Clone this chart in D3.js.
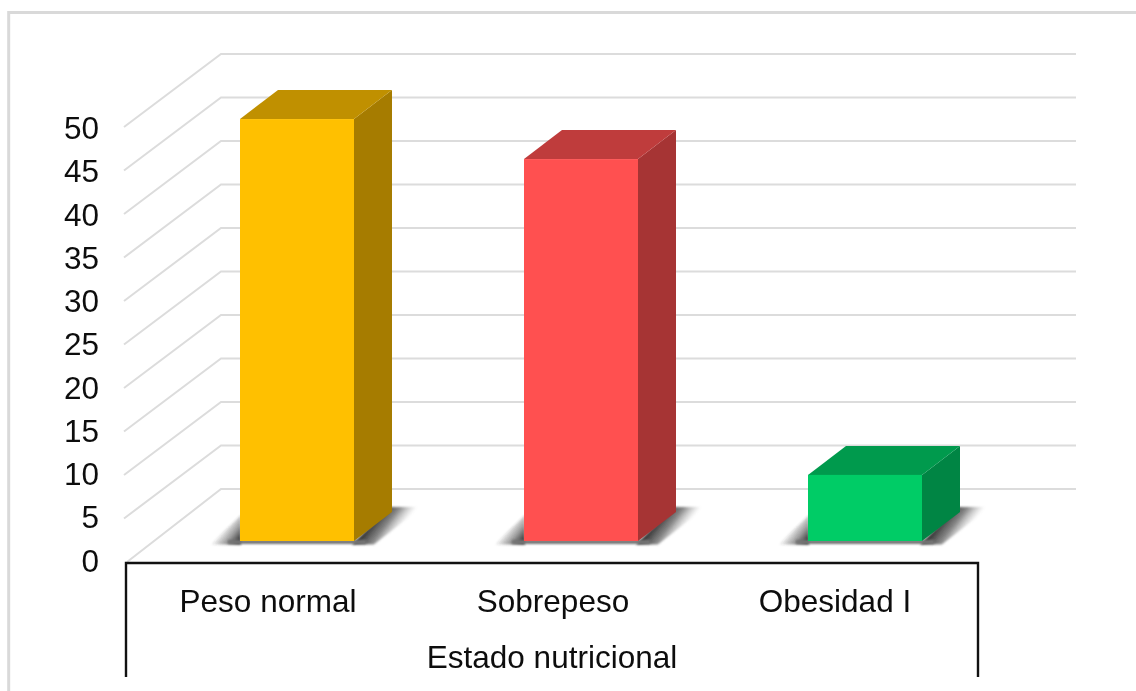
<!DOCTYPE html>
<html><head><meta charset="utf-8">
<script src="https://cdnjs.cloudflare.com/ajax/libs/d3/7.8.5/d3.min.js"></script>
<style>html,body{margin:0;padding:0;background:#fff;overflow:hidden}svg{display:block}
text{font-family:"Liberation Sans",Arial,sans-serif;fill:#111}</style></head><body>
<svg id="c" width="1136" height="691"></svg>
<script>
const categories=["Peso normal","Sobrepeso","Obesidad I"];
const values=[48.5,43.9,7.6];
const frontColors=["#FFC000","#FF5050","#00CC66"];
const topColors=["#C09000","#BF3C3C","#009A4D"];
const sideColors=["#A67C00","#A63434","#008544"];
const yTicks=[0,5,10,15,20,25,30,35,40,45,50];
const axisTitle="Estado nutricional";

const W=1136,H=691;
const svg=d3.select("#c").attr("viewBox",[0,0,W,H]);
const defs=svg.append("defs");
defs.append("filter").attr("id","soft").append("feGaussianBlur").attr("stdDeviation",0.45);
defs.append("filter").attr("id","sh").attr("x","-20%").attr("y","-30%").attr("width","140%").attr("height","160%").append("feGaussianBlur").attr("stdDeviation",1.3);

const y=d3.scaleLinear().domain([0,50]).range([562,127]);
const yLabel=d3.scaleLinear().domain([0,50]).range([571.5,139]);
const x=d3.scaleBand().domain(categories).range([126,978]);
const depth={dx:95,dy:-73};
const barOff={dx:29,dy:-21};
const barDepth={dx:38,dy:-29};
const barW=114;
const root=svg.append("g");

function gradient(id,p,q,stops){
  const g=defs.append("linearGradient").attr("id",id).attr("gradientUnits","userSpaceOnUse")
    .attr("x1",p[0]).attr("y1",p[1]).attr("x2",q[0]).attr("y2",q[1]);
  stops.forEach(s=>g.append("stop").attr("offset",s[0]).attr("stop-color",s[1]).attr("stop-opacity",s[2]));
  return `url(#${id})`;
}

// outer frame
root.append("path").attr("d",`M8.7 691V12.5H${W}`).attr("fill","none").attr("stroke","#d9d9d9").attr("stroke-width",3);

// gridlines
const grid=root.append("g").attr("fill","none").attr("stroke","#dcdcdc").attr("stroke-width",2);
grid.selectAll("path").data(yTicks).join("path")
 .attr("d",d=>`M${d===0?127:124} ${y(d)}L${126+depth.dx} ${y(d)+depth.dy}H1076`);

// bars
const bars=root.append("g").selectAll("g").data(categories).join("g");
const line=d3.line();
bars.each(function(c,i){
  const g=d3.select(this);
  const l=x(c)+x.bandwidth()/2-barW/2+barOff.dx, r=l+barW;
  const b=y(0)+barOff.dy, t=y(values[i])+barOff.dy;
  const fl=gradient("sl"+i,[l-17,b-12],[l-1,b+1],[[0,"#333",0],[.5,"#444",.5],[1,"#333",1]]);
  g.append("path").attr("d",line([[l-30,b+3.5],[l+1,b-26],[l+1,b+3.5]])).attr("fill",fl).attr("filter","url(#sh)");
  const fr=gradient("sr"+i,[r+10,b-10],[r+32,b+7],[[0,"#2a2a2a",1],[.5,"#555",.7],[1,"#999",0]]);
  g.append("path").attr("d",line([[r-2,b+3.5],[r+barDepth.dx-2,b-34],[r+68,b-34],[r+20,b+3.5]])).attr("fill",fr).attr("filter","url(#sh)");
  g.append("rect").attr("x",l-12).attr("y",b-1).attr("width",barW+24).attr("height",4).attr("fill","#757575").attr("filter","url(#sh)");
  g.append("path").attr("d",line([[r,t],[r+barDepth.dx,t+barDepth.dy],[r+barDepth.dx,b+barDepth.dy],[r,b]])).attr("fill",sideColors[i]);
  g.append("path").attr("d",line([[l,t],[l+barDepth.dx,t+barDepth.dy],[r+barDepth.dx,t+barDepth.dy],[r,t]])).attr("fill",topColors[i]);
  g.append("rect").attr("x",l).attr("y",t).attr("width",barW).attr("height",b-t).attr("fill",frontColors[i]);
});

// category box
root.append("path").attr("d",`M${x.range()[0]} 677V563H${x.range()[1]}V677`).attr("fill","none").attr("stroke","#111").attr("stroke-width",2.4);

// text
const txt=root.append("g").attr("filter","url(#soft)");
txt.selectAll(".yl").data(yTicks).join("text").attr("class","yl")
 .attr("x",99).attr("y",d=>yLabel(d)).attr("text-anchor","end").attr("font-size",31.5).text(d=>d);
const labelX=[268,553,835];
txt.selectAll(".cl").data(categories).join("text").attr("class","cl")
 .attr("x",(d,i)=>labelX[i]).attr("y",612).attr("text-anchor","middle").attr("font-size",31.5).text(d=>d);
txt.append("text").attr("x",552).attr("y",668).attr("text-anchor","middle").attr("font-size",31.5).text(axisTitle);
</script></body></html>
